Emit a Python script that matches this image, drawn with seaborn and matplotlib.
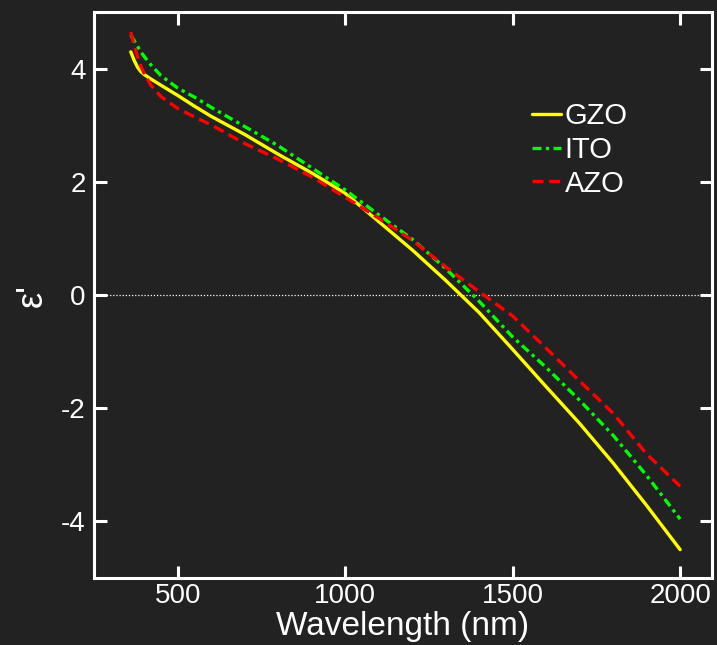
import numpy as np
import pandas as pd
import matplotlib
matplotlib.use("Agg")
import matplotlib.pyplot as plt
import seaborn as sns

# Real part of permittivity vs wavelength for three transparent conducting oxides
wavelength_nm = [360, 370, 380, 390, 400, 420, 450, 500, 550, 600, 700, 800,
                 900, 1000, 1100, 1200, 1300, 1400, 1500, 1600, 1700, 1800,
                 1900, 2000]
eps_gzo = [4.30, 4.15, 4.03, 3.95, 3.90, 3.82, 3.71, 3.53, 3.34, 3.16, 2.84,
           2.49, 2.16, 1.80, 1.30, 0.80, 0.26, -0.31, -0.96, -1.62, -2.27,
           -2.97, -3.72, -4.50]
eps_ito = [4.60, 4.50, 4.40, 4.30, 4.22, 4.07, 3.88, 3.66, 3.50, 3.32, 2.98,
           2.64, 2.25, 1.86, 1.42, 0.99, 0.47, -0.11, -0.74, -1.28, -1.86,
           -2.48, -3.19, -3.96]
eps_azo = [4.65, 4.42, 4.22, 4.05, 3.92, 3.71, 3.51, 3.30, 3.15, 3.01, 2.68,
           2.40, 2.09, 1.73, 1.36, 0.97, 0.50, 0.06, -0.37, -0.94, -1.52,
           -2.09, -2.81, -3.38]

materials = ["GZO", "ITO", "AZO"]
colors = {"GZO": "#ffff00", "ITO": "#00ff00", "AZO": "#ff0000"}
dash_styles = {"GZO": "", "ITO": (2.7, 1.3, 1.0, 1.3), "AZO": (3.3, 1.7)}

x_ticks = [500, 1000, 1500, 2000]
y_ticks = [-4, -2, 0, 2, 4]

df = pd.DataFrame({
    "Wavelength": wavelength_nm * 3,
    "eps": eps_gzo + eps_ito + eps_azo,
    "Material": sum([[m] * len(wavelength_nm) for m in materials], []),
})

bg = "#222222"
sns.set_theme(style="ticks")
plt.rcParams["font.family"] = ["Liberation Sans", "DejaVu Sans"]
plt.rcParams["axes.unicode_minus"] = False

fig = plt.figure(figsize=(7.17, 6.45), dpi=100, facecolor=bg)
ax = fig.add_axes([0.131, 0.104, 0.862, 0.877])
ax.set_facecolor(bg)

ax.axhline(0, color="white", lw=0.9, ls=(0, (1, 1.5)), zorder=1)

sns.lineplot(data=df, x="Wavelength", y="eps", hue="Material", style="Material",
             hue_order=materials, style_order=materials,
             palette=colors, dashes=dash_styles, lw=2.4, ax=ax, zorder=3)

ax.set_xlim(250, 2095)
ax.set_ylim(-5, 5)
ax.set_xticks(x_ticks)
ax.set_yticks(y_ticks)

for side in ["left", "right", "top", "bottom"]:
    ax.spines[side].set_color("white")
    ax.spines[side].set_linewidth(2.2)
ax.tick_params(axis="both", which="major", direction="in", length=9,
               width=2.2, color="white", labelcolor="white", labelsize=20,
               top=True, right=True, pad=6)
ax.tick_params(axis="x", pad=4)

ax.set_xlabel("Wavelength (nm)", color="white", fontsize=24, labelpad=1)
ax.set_ylabel("ε'", color="white", fontsize=26, labelpad=8)

handles, labels = ax.get_legend_handles_labels()
leg = ax.legend(handles, labels, loc="upper left", bbox_to_anchor=(0.69, 0.862),
                frameon=False, fontsize=21, handlelength=1.0, handletextpad=0.12,
                labelspacing=0.2, borderaxespad=0)
for t in leg.get_texts():
    t.set_color("white")

fig.savefig("out.png", dpi=100, facecolor=bg)
